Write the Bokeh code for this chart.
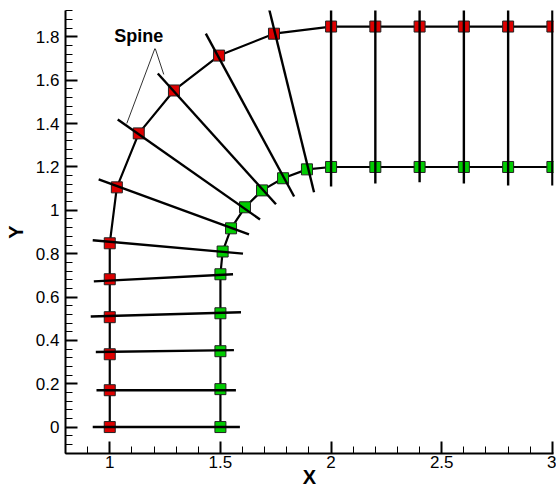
import numpy as np
from bokeh.plotting import figure
from bokeh.models import Range1d, FixedTicker
from bokeh.core.properties import value
from bokeh.embed import file_html
from bokeh.resources import INLINE

# Outer spine (red markers)
red_x = [1.0, 1.0, 1.0, 1.0, 1.0, 1.0, 1.032, 1.131, 1.29, 1.494, 1.742, 2.0, 2.2, 2.4, 2.6, 2.8, 3.0]
red_y = [0.0, 0.17, 0.336, 0.507, 0.682, 0.848, 1.106, 1.355, 1.553, 1.714, 1.815, 1.848, 1.848, 1.848, 1.848, 1.848, 1.848]

# Inner spine (green markers)
green_x = [1.5, 1.5, 1.5, 1.5, 1.5, 1.51, 1.548, 1.611, 1.688, 1.783, 1.891, 2.0, 2.2, 2.4, 2.6, 2.8, 3.0]
green_y = [0.0, 0.175, 0.35, 0.525, 0.705, 0.81, 0.917, 1.014, 1.092, 1.148, 1.189, 1.2, 1.2, 1.2, 1.2, 1.2, 1.2]

# Normal lines: start and end points
norm_x0 = [0.923, 0.94, 0.937, 0.914, 0.928, 0.923, 0.95, 1.036, 1.217, 1.434, 1.715, 2.0, 2.2, 2.4, 2.6, 2.8, 3.0]
norm_y0 = [0.0, 0.17, 0.346, 0.51, 0.672, 0.862, 1.143, 1.419, 1.631, 1.815, 1.95, 1.95, 1.95, 1.95, 1.95, 1.95, 1.95]
norm_x1 = [1.588, 1.57, 1.561, 1.593, 1.557, 1.602, 1.629, 1.679, 1.751, 1.833, 1.923, 2.0, 2.2, 2.4, 2.6, 2.8, 3.0]
norm_y1 = [0.0, 0.17, 0.355, 0.53, 0.705, 0.80, 0.889, 0.958, 1.028, 1.064, 1.083, 1.11, 1.124, 1.13, 1.124, 1.115, 1.115]

# Annotation
label_text = "Spine"
label_x = 1.131
label_y = 1.805
leader_x0 = [1.204, 1.206]
leader_y0 = [1.747, 1.745]
leader_x1 = [1.077, 1.244]
leader_y1 = [1.401, 1.627]

x_title = "X"
y_title = "Y"
x_ticks = [1, 1.5, 2, 2.5, 3]
x_tick_labels = ["1", "1.5", "2", "2.5", "3"]
y_ticks = [0, 0.2, 0.4, 0.6, 0.8, 1.0, 1.2, 1.4, 1.6, 1.8]
y_tick_labels = ["0", "0.2", "0.4", "0.6", "0.8", "1", "1.2", "1.4", "1.6", "1.8"]

p = figure(width=556, height=490, output_backend="svg", toolbar_location=None,
           x_range=Range1d(0.8, 3.005), y_range=Range1d(-0.122, 1.922),
           min_border_left=65, min_border_right=3, min_border_top=10, min_border_bottom=37)
p.outline_line_color = None
p.grid.visible = False
p.background_fill_color = "white"
p.border_fill_color = "white"

x_minor = [round(v, 3) for v in np.arange(0.8, 3.001, 0.1)]
y_minor = [round(v, 3) for v in np.arange(-0.12, 1.921, 0.04)]
p.xaxis.ticker = FixedTicker(ticks=x_ticks, minor_ticks=x_minor)
p.yaxis.ticker = FixedTicker(ticks=y_ticks, minor_ticks=y_minor)
p.xaxis.major_label_overrides = {t: l for t, l in zip(x_ticks, x_tick_labels)}
p.yaxis.major_label_overrides = {t: l for t, l in zip(y_ticks, y_tick_labels)}

for ax in (p.xaxis, p.yaxis):
    ax.axis_line_width = 2
    ax.axis_line_color = "black"
    ax.major_tick_in = 12
    ax.major_tick_out = 0
    ax.minor_tick_in = 7
    ax.minor_tick_out = 0
    ax.major_tick_line_width = 2
    ax.major_tick_line_color = "black"
    ax.minor_tick_line_width = 1
    ax.minor_tick_line_color = "black"
    ax.major_label_text_font = "Liberation Sans"
    ax.major_label_text_font_size = "17px"
    ax.major_label_text_color = "black"
    ax.axis_label_text_font = "Liberation Sans"
    ax.axis_label_text_font_size = "20px"
    ax.axis_label_text_font_style = "bold"
    ax.axis_label_text_color = "black"
p.xaxis.axis_label = x_title
p.yaxis.axis_label = y_title
p.xaxis.major_label_standoff = 2
p.xaxis.axis_label_standoff = -5
p.yaxis.major_label_standoff = 6
p.yaxis.axis_label_standoff = 6

# spine polylines
p.line(red_x, red_y, line_color="black", line_width=2.2)
p.line(green_x, green_y, line_color="black", line_width=2.2)

# markers
p.scatter(red_x, red_y, marker="square", size=11, fill_color="#dd0000", line_color="#222222", line_width=1)
p.scatter(green_x, green_y, marker="square", size=11, fill_color="#00cc00", line_color="#222222", line_width=1)

# normal lines on top
p.segment(norm_x0, norm_y0, norm_x1, norm_y1, line_color="black", line_width=2.4)

# annotation
p.segment(leader_x0, leader_y0, leader_x1, leader_y1, line_color="#333333", line_width=1)
p.text([label_x], [label_y], text=[label_text], text_font=value("Liberation Sans"),
       text_font_size="18px", text_font_style="bold", text_align="center",
       text_baseline="middle", text_color="black")

open("out.html", "w").write(file_html(p, INLINE))
